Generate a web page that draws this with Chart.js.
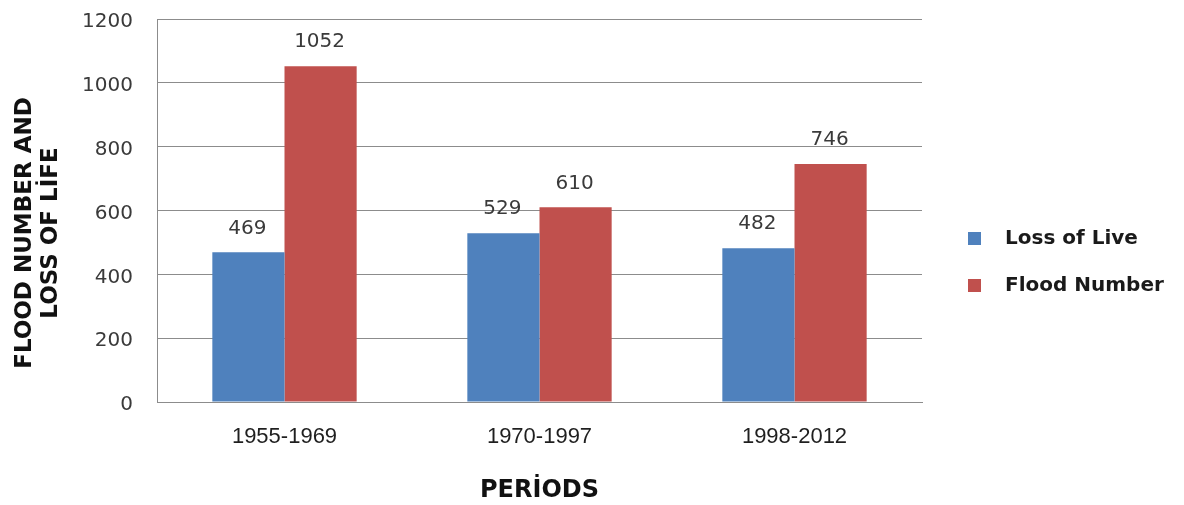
<!DOCTYPE html>
<html>
<head>
<meta charset="utf-8">
<script src="https://cdn.jsdelivr.net/npm/chart.js@4.4.1/dist/chart.umd.min.js"></script>
<style>
  html, body { margin: 0; padding: 0; background: #ffffff; }
  #wrap { width: 1184px; height: 505px; position: relative; }
</style>
</head>
<body>
<div id="wrap"><canvas id="c" width="1184" height="505"></canvas></div>
<script>
const categories = ['1955-1969', '1970-1997', '1998-2012'];
const lossOfLive = [469, 529, 482];
const floodNumber = [1052, 610, 746];
const seriesNames = ['Loss of Live', 'Flood Number'];
const yTickValues = [0, 200, 400, 600, 800, 1000, 1200];
const yTitleLines = ['FLOOD NUMBER AND', 'LOSS OF LİFE'];
const xTitle = 'PERİODS';

const BLUE = '#4F81BD';
const RED = '#C0504D';
const GRID = '#8c8c8c';

const valueLabels = {
  id: 'valueLabels',
  afterDatasetsDraw(chart) {
    const ctx = chart.ctx;
    ctx.save();
    ctx.font = '20px "DejaVu Sans"';
    ctx.fillStyle = '#3a3a3a';
    ctx.textAlign = 'center';
    ctx.textBaseline = 'middle';
    chart.data.datasets.forEach((ds, i) => {
      const meta = chart.getDatasetMeta(i);
      meta.data.forEach((bar, j) => {
        ctx.fillText(String(ds.data[j]), bar.x - 1, bar.y - 24);
      });
    });
    ctx.restore();
  }
};

const yTitlePlugin = {
  id: 'yTitlePlugin',
  afterDraw(chart) {
    const ctx = chart.ctx;
    ctx.save();
    ctx.font = 'bold 23px "DejaVu Sans"';
    ctx.fillStyle = '#111111';
    ctx.textAlign = 'center';
    ctx.textBaseline = 'middle';
    const xs = [25, 51];
    yTitleLines.forEach((line, i) => {
      ctx.save();
      ctx.translate(xs[i], 233);
      ctx.rotate(-Math.PI / 2);
      ctx.fillText(line, 0, 0);
      ctx.restore();
    });
    ctx.restore();
  }
};

const legendPlugin = {
  id: 'legendPlugin',
  afterDraw(chart) {
    const ctx = chart.ctx;
    ctx.save();
    ctx.font = 'bold 20px "DejaVu Sans"';
    ctx.textAlign = 'left';
    ctx.textBaseline = 'middle';
    const ys = [238, 285];
    chart.data.datasets.forEach((ds, i) => {
      ctx.fillStyle = ds.backgroundColor;
      ctx.fillRect(968, ys[i] - 6, 13, 13);
      ctx.fillStyle = '#1a1a1a';
      ctx.fillText(ds.label, 1005, ys[i] + 1);
    });
    ctx.restore();
  }
};

new Chart(document.getElementById('c'), {
  type: 'bar',
  data: {
    labels: categories,
    datasets: [
      { label: seriesNames[0], data: lossOfLive, backgroundColor: BLUE, borderWidth: 0 },
      { label: seriesNames[1], data: floodNumber, backgroundColor: RED, borderWidth: 0 }
    ]
  },
  options: {
    responsive: false,
    animation: false,
    devicePixelRatio: 1,
    layout: { padding: { left: 0, right: 262, top: 19, bottom: 0 } },
    plugins: {
      legend: { display: false },
      tooltip: { enabled: false },
      title: { display: false }
    },
    datasets: {
      bar: { categoryPercentage: 0.566, barPercentage: 1.0 }
    },
    scales: {
      x: {
        grid: { display: false, drawTicks: false },
        border: { display: true, color: GRID, width: 1 },
        ticks: {
          padding: 22,
          color: '#1f1f1f',
          font: { family: '"Liberation Sans"', size: 22 }
        },
        title: {
          display: true,
          text: xTitle,
          color: '#111111',
          font: { family: '"DejaVu Sans"', size: 24, weight: 'bold' },
          padding: { top: 0, bottom: 0 }
        },
        afterFit(scale) {
          scale.height = 103;
          scale.paddingLeft = 0; scale.paddingRight = 0;
        }
      },
      y: {
        min: 0,
        max: 1200,
        afterBuildTicks(scale) { scale.ticks = yTickValues.map(v => ({ value: v })); },
        grid: { color: GRID, lineWidth: 1, drawTicks: false },
        border: { display: true, color: GRID, width: 1 },
        ticks: {
          padding: 24,
          labelOffset: 3,
          color: '#3a3a3a',
          font: { family: '"DejaVu Sans"', size: 20 },
          callback: (v) => String(v)
        },
        afterFit(scale) {
          scale.width = 157;
          scale.paddingTop = 0; scale.paddingBottom = 0;
        }
      }
    }
  },
  plugins: [valueLabels, yTitlePlugin, legendPlugin]
});
</script>
</body>
</html>
